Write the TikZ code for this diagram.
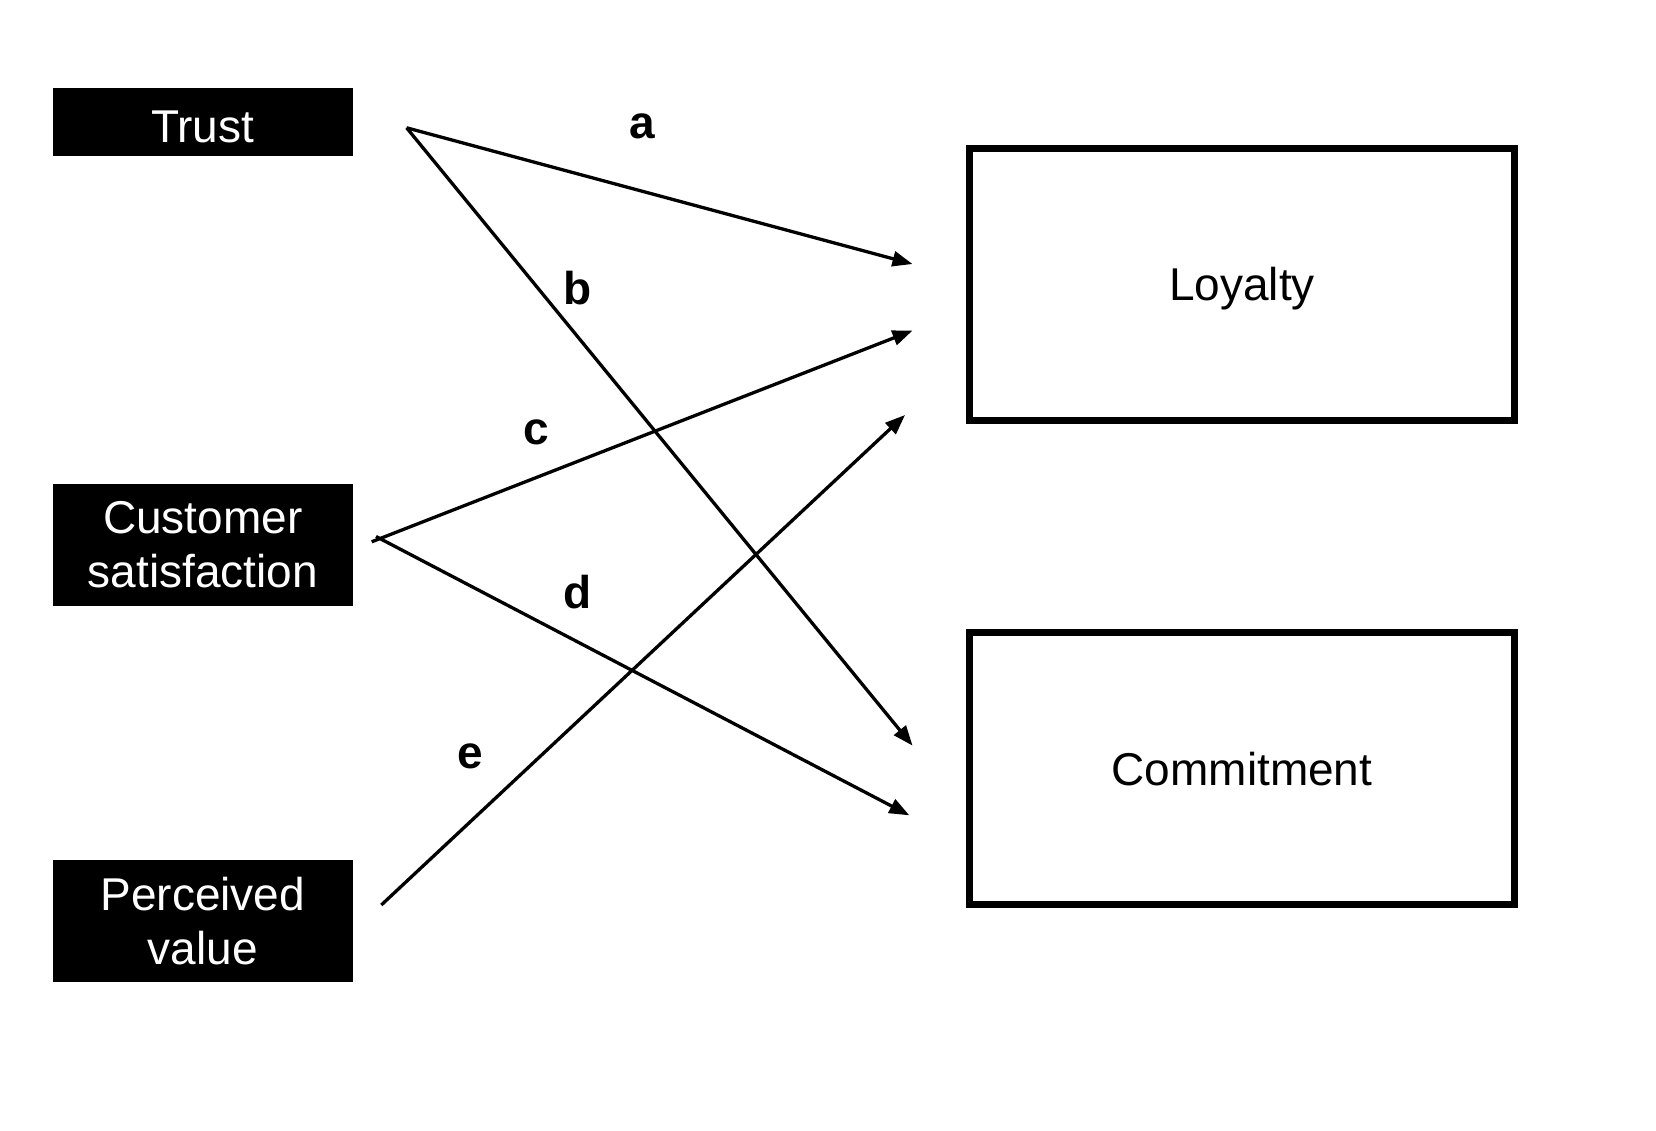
\documentclass[tikz,border=0pt]{standalone}
\usepackage{fontspec}
\setmainfont{Liberation Sans}
\usetikzlibrary{arrows.meta}
\begin{document}
\begin{tikzpicture}[x=1pt,y=-1pt,
  src/.style={fill=black,text=white,minimum width=300pt,inner sep=0pt,align=center,font=\fontsize{46}{54}\selectfont},
  tgt/.style={draw=black,line width=7pt,minimum width=545pt,minimum height=271.5pt,inner sep=0pt,text depth=0pt,font=\fontsize{46}{54}\selectfont},
  conn/.style={line width=3.3pt,-{Triangle[length=20pt,width=15pt]}},
  lbl/.style={font=\fontsize{46}{54}\selectfont\bfseries}]
\useasboundingbox (0,0) rectangle (1656,1130);
\node[src,minimum height=68pt,text height=40pt,text depth=0pt] (trust) at (202.75,122) {Trust};
\node[src,minimum height=122.6pt] (cs) at (202.75,545) {Customer\\satisfaction};
\node[src,minimum height=122.5pt] (pv) at (202.75,921) {Perceived\\value};
\node[tgt] (loy) at (1242,284.25) {Loyalty};
\node[tgt] (com) at (1242,768.5) {Commitment};
\coordinate (ts) at (406.6,127.8);
\coordinate (cs1) at (371.7,541.8);
\coordinate (cs2) at (376,536.5);
\coordinate (ps) at (381.3,905);
\coordinate (ea) at (912.5,264);
\coordinate (eb) at (912.5,745.6);
\coordinate (ec) at (912.5,330.6);
\coordinate (ed) at (909.3,815.3);
\coordinate (ee) at (905,415);
\draw[conn] (ts) -- (ea);
\draw[conn] (ts) -- (eb);
\draw[conn] (cs1) -- (ec);
\draw[conn] (cs2) -- (ed);
\draw[conn] (ps) -- (ee);
\node[lbl] (la) at (642,126) {a};
\node[lbl] (lb) at (577.7,288) {b};
\node[lbl] (lc) at (536.5,432) {c};
\node[lbl] (ld) at (577.7,592) {d};
\node[lbl] (le) at (470,756) {e};
\end{tikzpicture}
\end{document}
